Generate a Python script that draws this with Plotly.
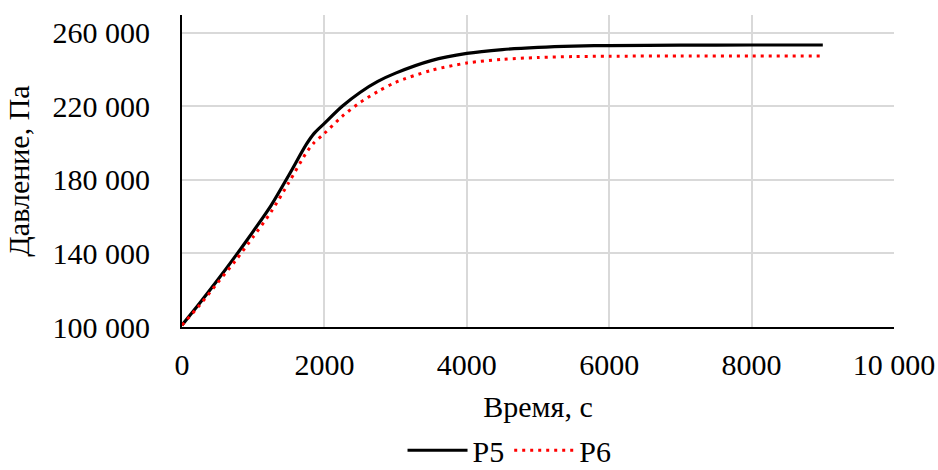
import plotly.graph_objects as go

t = [0, 250, 500, 750, 1000, 1250, 1500, 1750, 1850, 2000, 2250, 2500, 2750, 3000,
     3500, 4000, 4500, 5000, 5500, 6000, 7000, 8000, 9000]
p5 = [101000, 113000, 125500, 138500, 152000, 166000, 182500, 199500, 205000, 210700,
      220000, 227500, 233500, 238000, 244800, 248700, 250800, 252000, 252700, 253000,
      253200, 253300, 253300]
p6 = [101000, 112000, 124000, 136000, 149000, 162500, 178500, 195000, 200000, 205200,
      214500, 222000, 228000, 233000, 239500, 243500, 245500, 246500, 247000, 247200,
      247300, 247300, 247300]

x_ticks = [0, 2000, 4000, 6000, 8000, 10000]
x_labels = ["0", "2000", "4000", "6000", "8000", "10 000"]
y_ticks = [100000, 140000, 180000, 220000, 260000]
y_labels = ["100 000", "140 000", "180 000", "220 000", "260 000"]

font = "Liberation Serif"
tf = dict(family=font, size=30, color="black")

fig = go.Figure()
fig.add_trace(go.Scatter(x=t, y=p5, mode="lines", name="P5",
                         line=dict(color="black", width=3.2, shape="spline", smoothing=0.8)))
fig.add_trace(go.Scatter(x=t, y=p6, mode="lines", name="P6",
                         line=dict(color="#ff0000", width=3, dash="3px,5px", shape="spline", smoothing=0.8)))

fig.update_layout(
    width=938, height=470,
    margin=dict(l=182, r=44, t=15, b=143, autoexpand=False),
    paper_bgcolor="white", plot_bgcolor="white",
    font=tf,
    showlegend=True,
    legend=dict(orientation="h", x=0.46, xanchor="center", y=-0.395, yanchor="middle",
                font=tf, itemwidth=60),
    xaxis=dict(range=[0, 10000], tickvals=x_ticks, ticktext=x_labels,
               tickfont=tf, automargin=False, ticklabelstandoff=10,
               showgrid=True, gridcolor="#d9d9d9", gridwidth=1.5,
               showline=True, linecolor="black", linewidth=2,
               zeroline=False, ticks="", ticklen=0,
               title=dict(text="Время, с", font=tf, standoff=16)),
    yaxis=dict(range=[100000, 269600], tickvals=y_ticks, ticktext=y_labels,
               tickfont=tf, automargin=False, ticklabelstandoff=24,
               showgrid=True, gridcolor="#d9d9d9", gridwidth=1.5,
               showline=True, linecolor="black", linewidth=2,
               zeroline=False, ticks="", ticklen=0,
               title=dict(text="Давление, Па", font=tf, standoff=14)),
)

fig.write_html("out.html")
